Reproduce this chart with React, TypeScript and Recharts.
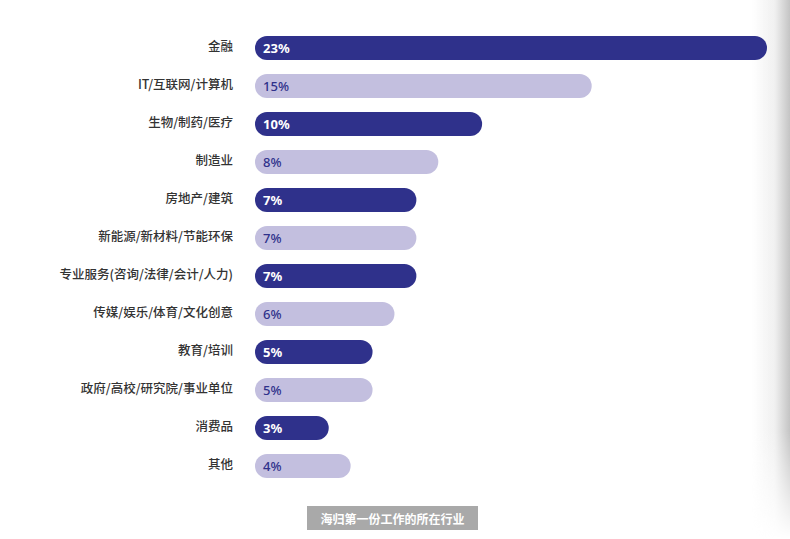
import { BarChart, Bar, XAxis, YAxis, Cell, LabelList } from 'recharts';

const industries = [
  '金融', 'IT/互联网/计算机', '生物/制药/医疗', '制造业', '房地产/建筑',
  '新能源/新材料/节能环保', '专业服务(咨询/法律/会计/人力)', '传媒/娱乐/体育/文化创意',
  '教育/培训', '政府/高校/研究院/事业单位', '消费品', '其他',
];
const shares = [23, 15, 10, 8, 7, 7, 7, 6, 5, 5, 3, 4];
const title = '海归第一份工作的所在行业';

const DARK = '#2f318b';
const LIGHT = '#c3bfdf';

const data = industries.map((name, i) => ({ name, value: shares[i] }));

// rounded bar that starts a little left of zero, like the original pill shapes
function Pill(props: any) {
  const { x, y, width, height, fill } = props;
  const left = x - 8;
  const w = width + 8;
  return <rect x={left} y={y} width={w} height={height} rx={height / 2} ry={height / 2} fill={fill} />;
}

function PctLabel(props: any) {
  const { x, y, height, index, value } = props;
  const dark = index % 2 === 0;
  return (
    <text
      x={x}
      y={y + height / 2 + 1}
      dominantBaseline="middle"
      fill={dark ? '#ffffff' : '#2f318b'}
      fontFamily="'Noto Sans', 'Open Sans', sans-serif"
      fontWeight={dark ? 700 : 500}
      fontSize={13}
    >
      {value}%
    </text>
  );
}

function CatTick(props: any) {
  const { x, y, payload } = props;
  return (
    <text
      x={x}
      y={y}
      textAnchor="end"
      dominantBaseline="middle"
      fill="#333333"
      fontFamily="'Noto Sans CJK SC', 'Noto Sans', sans-serif"
      fontWeight={500}
      fontSize={12.5}
    >
      {payload.value}
    </text>
  );
}

export default function App() {
  return (
    <div style={{ position: 'absolute', left: 0, top: 0, width: 790, height: 539, background: '#fff', overflow: 'hidden' }}>
      {/* page edge shadow on the right */}
      <div
        style={{
          position: 'absolute', left: 752, top: 0, width: 38, height: 539,
          background: 'linear-gradient(to right, rgba(255,255,255,0), #f0f0f0 60%, #c4c4c4)',
          WebkitMaskImage: 'linear-gradient(to bottom, #000 80%, transparent 100%)',
          maskImage: 'linear-gradient(to bottom, #000 80%, transparent 100%)',
        }}
      />
      <div style={{ position: 'absolute', left: 0, top: 0 }}>
        <BarChart
          width={790}
          height={490}
          data={data}
          layout="vertical"
          margin={{ top: 29, right: 23, bottom: 5, left: 0 }}
          barSize={24}
        >
          <XAxis type="number" hide domain={[0, 23]} />
          <YAxis
            type="category"
            dataKey="name"
            width={263}
            axisLine={false}
            tickLine={false}
            tickSize={0}
            tickMargin={30}
            interval={0}
            tick={<CatTick />}
          />
          <Bar dataKey="value" isAnimationActive={false} shape={<Pill />}>
            {data.map((d, i) => (
              <Cell key={d.name} fill={i % 2 === 0 ? DARK : LIGHT} />
            ))}
            <LabelList dataKey="value" content={<PctLabel />} />
          </Bar>
        </BarChart>
      </div>
      <div
        style={{
          position: 'absolute', left: 307, top: 506, width: 171, height: 24,
          background: '#a9a9a9', color: '#fff', display: 'flex', alignItems: 'center',
          justifyContent: 'center', fontFamily: "'Noto Sans CJK SC', sans-serif",
          fontWeight: 700, fontSize: 12,
        }}
      >
        {title}
      </div>
    </div>
  );
}
